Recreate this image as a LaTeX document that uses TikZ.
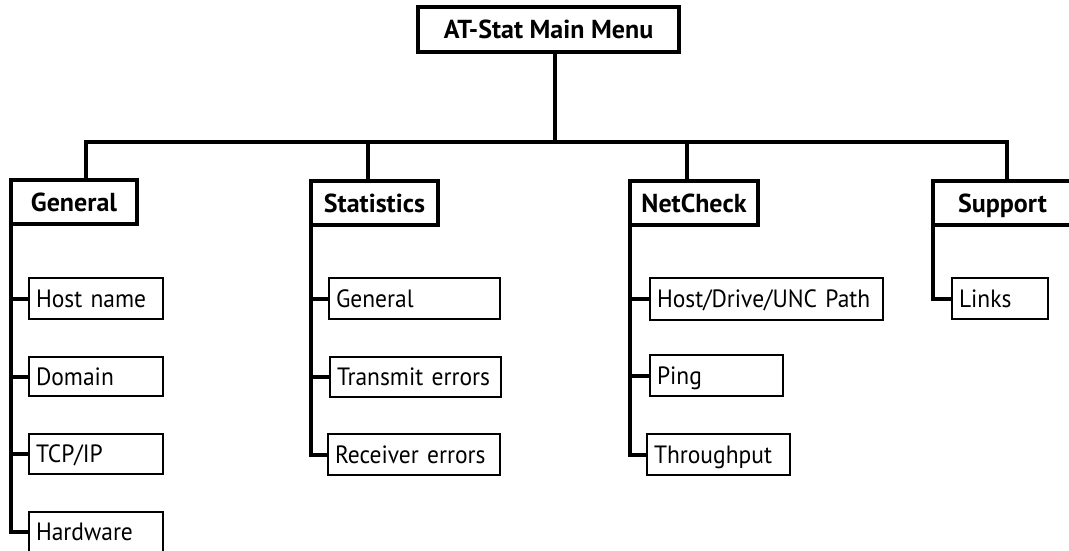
\documentclass[tikz,border=0pt]{standalone}
\usepackage{fontspec}
\setmainfont{PT Sans}
\newfontfamily\entryfont{PT Sans}[FakeStretch=0.94]
\usetikzlibrary{positioning}

\tikzset{
  menu/.style={draw, line width=4pt, outer sep=0pt, inner sep=0pt, anchor=north west,
    minimum height=44, text height=18, text depth=0pt,
    font=\bfseries\fontsize{26}{30}\selectfont},
  entry/.style={draw, line width=2pt, outer sep=0pt, inner xsep=7pt, inner ysep=0pt,
    anchor=north west, minimum height=41, text height=17.5, text depth=0pt,
    align=left, font=\entryfont\fontsize{25}{29}\selectfont},
  link/.style={line width=4pt, line join=miter}
}

\begin{document}
\begin{tikzpicture}[x=1pt,y=-1pt]
  \useasboundingbox (0,0) rectangle (1069,551);
  % main menu
  \node[menu, minimum width=261, minimum height=45] (top) at (418,7) {AT-Stat Main Menu};
  % first level
  \node[menu, minimum width=126] (gen)  at (11,180)  {General};
  \node[menu, minimum width=127] (stat) at (311,181) {Statistics};
  \node[menu, minimum width=128] (net)  at (630,181) {NetCheck};
  \node[menu, minimum width=139] (sup)  at (933,181) {Support};
  % second level
  \node[entry, text width=120] (hn)   at (29,278)  {Host name};
  \node[entry, text width=120, minimum height=39] (dom)  at (29,357)  {Domain};
  \node[entry, text width=120, minimum height=40] (tcp)  at (29,434)  {TCP/IP};
  \node[entry, text width=120, minimum height=40] (hw)   at (29,512)  {Hardware};
  \node[entry, text width=157] (sgen) at (329,278) {General};
  \node[entry, text width=157, minimum height=40] (tx)   at (330,357) {Transmit errors};
  \node[entry, text width=158] (rx)   at (328,434) {Receiver errors};
  \node[entry, text width=219, minimum height=42] (hd)   at (650,278) {Host/Drive/UNC Path};
  \node[entry, text width=119] (ping) at (650,355) {Ping};
  \node[entry, text width=129] (thr)  at (647,434) {Throughput};
  \node[entry, text width=82]  (lnk)  at (952,278) {Links};
  % bus
  \coordinate (bus)   at (0,142);
  \coordinate (stem)  at ([xshift=6]top.south);
  \coordinate (dgen)  at ([xshift=12]gen.north);
  \coordinate (dstat) at ([xshift=-6.5]stat.north);
  \coordinate (dnet)  at ([xshift=-7]net.north);
  \coordinate (dsup)  at ([xshift=4.5]sup.north);
  \draw[link] (stem) -- (stem |- bus);
  \draw[link] (dgen) -- (dgen |- bus) -- (dsup |- bus) -- (dsup);
  \draw[link] (dstat) -- (dstat |- bus);
  \draw[link] (dnet) -- (dnet |- bus);
  % branches
  \draw[link] (gen.south west) |- (hw.west);
  \foreach \c in {hn,dom,tcp}
    \draw[link] (gen.south west |- \c.west) -- (\c.west);
  \draw[link] (stat.south west) |- (rx.west);
  \foreach \c in {sgen,tx}
    \draw[link] (stat.south west |- \c.west) -- (\c.west);
  \draw[link] (net.south west) |- (thr.west);
  \foreach \c in {hd,ping}
    \draw[link] (net.south west |- \c.west) -- (\c.west);
  \draw[link] (sup.south west) |- (lnk.west);
\end{tikzpicture}
\end{document}
